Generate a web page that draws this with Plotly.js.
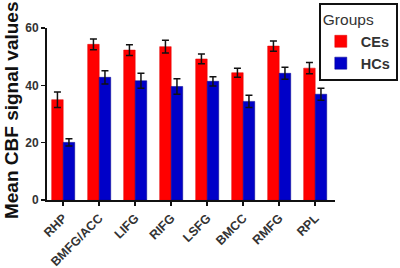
<!DOCTYPE html>
<html>
<head>
<meta charset="utf-8">
<script src="https://cdn.plot.ly/plotly-3.0.1.min.js"></script>
<style>
html,body{margin:0;padding:0;background:#fff;}
#chart{width:400px;height:268px;}
</style>
</head>
<body>
<div id="chart"></div>
<script>
var regions = ["RHP", "BMFG/ACC", "LIFG", "RIFG", "LSFG", "BMCC", "RMFG", "RPL"];
var cesMean = [35, 54.3, 52.3, 53.5, 49.2, 44.4, 53.7, 46];
var cesErr  = [2.7, 1.9, 1.9, 2.2, 1.7, 1.6, 1.8, 2.0];
var hcsMean = [20.1, 42.8, 41.6, 39.6, 41.4, 34.4, 44.2, 36.9];
var hcsErr  = [1.3, 2.3, 2.6, 2.7, 1.6, 2.1, 2.1, 2.1];
var yTicks = [0, 20, 40, 60];
var yTitle = 'Mean CBF signal values';

var errStyle = {type: 'data', visible: true, color: '#111', thickness: 1.5, width: 3.5};

var traces = [
  {type: 'bar', name: 'CEs', x: regions, y: cesMean,
   error_y: Object.assign({array: cesErr}, errStyle),
   marker: {color: '#ff0000', line: {color: '#e00000', width: 0.5}}},
  {type: 'bar', name: 'HCs', x: regions, y: hcsMean,
   error_y: Object.assign({array: hcsErr}, errStyle),
   marker: {color: '#0000c8', line: {color: '#00008a', width: 0.5}}}
];

var layout = {
  width: 400, height: 268,
  margin: {l: 47, r: 65, t: 28, b: 68, pad: 0, autoexpand: false},
  paper_bgcolor: '#fff', plot_bgcolor: '#fff',
  barmode: 'group', bargap: 0.36, bargroupgap: 0,
  font: {family: 'Arial, Liberation Sans, sans-serif', color: '#333'},
  xaxis: {
    type: 'category', range: [-0.45, 7.55], showline: true, linecolor: '#111', linewidth: 2,
    ticks: 'outside', ticklen: 4, tickwidth: 1.5, tickcolor: '#111',
    tickangle: -45, tickfont: {size: 12.5, weight: 'bold', color: '#333'},
    showgrid: false, zeroline: false, automargin: false, fixedrange: true
  },
  yaxis: {
    range: [0, 60], tickvals: yTicks, ticktext: yTicks.map(String),
    showline: true, linecolor: '#111', linewidth: 2,
    ticks: 'outside', ticklen: 4, tickwidth: 1.5, tickcolor: '#111',
    tickfont: {size: 12, weight: 'bold', color: '#333'},
    showgrid: false, zeroline: false, automargin: false
  },
  showlegend: true,
  legend: {
    xref: 'container', yref: 'container',
    x: 0.797, y: 0.988, xanchor: 'left', yanchor: 'top',
    bordercolor: '#111', borderwidth: 2, bgcolor: '#fff',
    title: {text: 'Groups', font: {size: 15.5, weight: 'normal', color: '#333'}},
    font: {size: 14.5, weight: 'bold', color: '#333'},
    traceorder: 'normal', itemwidth: 30, tracegroupgap: 0
  },
  annotations: [
    {text: yTitle, xref: 'paper', yref: 'paper', x: -0.125, y: 0.523,
     xanchor: 'center', yanchor: 'middle', textangle: -90, showarrow: false,
     font: {size: 19, weight: 'bold', color: '#111'}}
  ]
};

Plotly.newPlot('chart', traces, layout, {displayModeBar: false, staticPlot: true});
</script>
</body>
</html>
